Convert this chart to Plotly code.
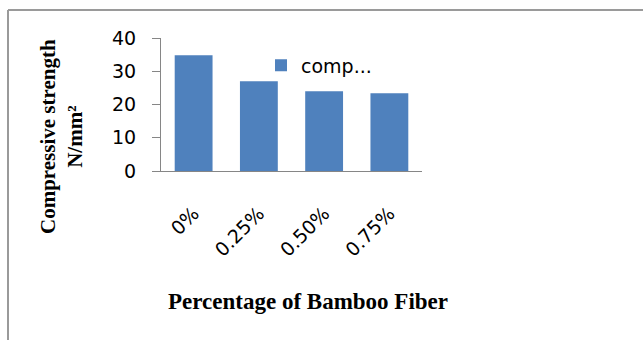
import plotly.graph_objects as go

categories = ["0%", "0.25%", "0.50%", "0.75%"]
strength = [34.8, 27.0, 24.0, 23.4]
series_name = "comp..."
y_ticks = [0, 10, 20, 30, 40]

W, H = 643, 340
L, R, T, B = 161, 422, 38, 171  # plot area in px


def px(x):
    return (x - L) / (R - L)


def py(y):
    return (B - y) / (B - T)


fig = go.Figure()
fig.add_trace(go.Bar(x=categories, y=strength, name=series_name,
                     marker=dict(color="#4F81BD", line=dict(width=0))))

fig.update_layout(
    width=W, height=H,
    margin=dict(l=L, r=W - R, t=T, b=H - B, pad=0),
    paper_bgcolor="white", plot_bgcolor="white",
    bargap=0.42,
    showlegend=True,
    legend=dict(x=px(261), y=py(65.5), xanchor="left", yanchor="middle",
                font=dict(family="DejaVu Sans", size=19, color="#000000"),
                bgcolor="rgba(0,0,0,0)", borderwidth=0),
    xaxis=dict(showline=True, linecolor="#868686", linewidth=1,
               ticks="", tickangle=-45, ticklabelstandoff=23,
               tickfont=dict(family="DejaVu Sans", size=19, color="#000000"),
               showgrid=False, zeroline=False, fixedrange=True),
    yaxis=dict(range=[0, 40], tickvals=y_ticks, showline=True,
               linecolor="#868686", linewidth=1, ticks="outside", ticklen=8,
               tickcolor="#868686", ticklabelstandoff=12,
               tickfont=dict(family="DejaVu Sans", size=19, color="#000000"),
               showgrid=False, zeroline=False, fixedrange=True),
    shapes=[
        dict(type="line", xref="paper", yref="paper", x0=px(8), x1=px(645),
             y0=py(10), y1=py(10), line=dict(color="#9a9a9a", width=2)),
        dict(type="line", xref="paper", yref="paper", x0=px(8), x1=px(8),
             y0=py(10), y1=py(342), line=dict(color="#9a9a9a", width=2)),
    ],
    annotations=[
        dict(text="Compressive strength<br>N/mm²", xref="paper", yref="paper",
             x=px(61), y=py(137), xanchor="center", yanchor="middle",
             textangle=-90, showarrow=False, align="center",
             font=dict(family="Liberation Serif", size=21, color="#000000",
                       weight="bold")),
        dict(text="Percentage of Bamboo Fiber", xref="paper", yref="paper",
             x=px(308), y=py(301), xanchor="center", yanchor="middle",
             showarrow=False,
             font=dict(family="Liberation Serif", size=23, color="#000000",
                       weight="bold")),
    ],
)

fig.write_html("out.html",
               config={"displayModeBar": False},
               post_script="document.body.style.margin='0';"
                           "document.body.style.overflow='hidden';")
